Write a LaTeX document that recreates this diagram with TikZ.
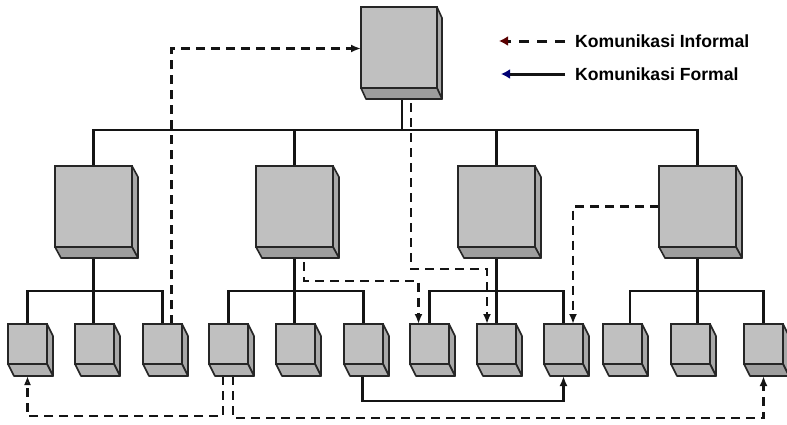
\documentclass[tikz,border=0pt]{standalone}
\usepackage{fontspec}
\setmainfont{Liberation Sans}
\usetikzlibrary{arrows.meta,calc}
\pgfdeclarelayer{bg}
\pgfsetlayers{bg,main}
\definecolor{facegray}{HTML}{C0C0C0}
\definecolor{sidegray}{HTML}{A8A8A8}
\definecolor{botgray}{HTML}{9E9E9E}
\definecolor{smallbot}{HTML}{B2B2B2}
\definecolor{edgegray}{HTML}{262626}
\tikzset{
  front/.style={draw=edgegray, fill=facegray, line width=1.6pt, inner sep=0pt, outer sep=0pt},
  edge/.style={draw=edgegray, line width=1.6pt, line join=round},
  formal/.style={draw=black!92, line width=2.2pt},
  informal/.style={draw=black!92, line width=2.2pt, dash pattern=on 9pt off 6pt},
  tip/.style={-{Latex[length=10pt,width=8pt]}},
  opentip/.style={-{Latex[open,length=9pt,width=7pt]}},
  legendtext/.style={font=\bfseries\fontsize{17.6}{20}\selectfont, anchor=west, inner sep=0pt}
}
% #1 name, #2 left x, #3 top y, #4 width, #5 height, #6/#7 depth offset, #8 bottom face colour
\newcommand{\cubebox}[8]{%
  \node[front, minimum width=#4pt, minimum height=#5pt, anchor=north west] (#1) at (#2,#3) {};
  \draw[edge, fill=sidegray] (#1.north east) -- ++(#6,#7) -- ($(#1.south east)+(#6,#7)$) -- (#1.south east) -- cycle;
  \draw[edge, fill=#8] (#1.south west) -- (#1.south east) -- ($(#1.south east)+(#6,#7)$) -- ($(#1.south west)+(#6,#7)$) -- cycle;
}
\begin{document}
\begin{tikzpicture}[x=1pt,y=-1pt]
\useasboundingbox (0,0) rectangle (787,424);

% top level
\cubebox{top}{361}{7}{76}{81}{5}{11}{botgray}

% second level
\cubebox{b1}{55}{166}{77}{81}{6}{11}{botgray}
\cubebox{b2}{256}{166}{77}{81}{6}{11}{botgray}
\cubebox{b3}{458}{166}{77}{81}{6}{11}{botgray}
\cubebox{b4}{659}{166}{77}{81}{6}{11}{botgray}

% third level
\cubebox{s1}{8}{324}{39}{40}{6}{12}{smallbot}
\cubebox{s2}{75}{324}{39}{40}{6}{12}{smallbot}
\cubebox{s3}{143}{324}{39}{40}{6}{12}{smallbot}
\cubebox{s4}{209}{324}{39}{40}{6}{12}{smallbot}
\cubebox{s5}{276}{324}{39}{40}{6}{12}{smallbot}
\cubebox{s6}{344}{324}{39}{40}{6}{12}{smallbot}
\cubebox{s7}{410}{324}{39}{40}{6}{12}{smallbot}
\cubebox{s8}{477}{324}{39}{40}{6}{12}{smallbot}
\cubebox{s9}{544}{324}{39}{40}{6}{12}{smallbot}
\cubebox{s10}{603}{324}{39}{40}{6}{12}{smallbot}
\cubebox{s11}{671}{324}{39}{40}{6}{12}{smallbot}
\cubebox{s12}{744}{324}{39}{40}{6}{12}{botgray}

% legend
\node[legendtext] (leg1) at (575,41) {Komunikasi Informal};
\node[legendtext] (leg2) at (575,74) {Komunikasi Formal};
\draw[informal, line width=3pt, dash pattern=on 10pt off 8pt, -{Latex[length=9pt,width=10pt,color=red!35!black]}]
  ([xshift=-10pt]leg1.west) -- ++(-66,0);
\draw[formal, line width=3pt, -{Latex[length=9pt,width=10pt,color=blue!45!black]}]
  ([xshift=-10pt]leg2.west) -- ++(-64,0);

\begin{pgfonlayer}{bg}
  % formal hierarchy
  \draw[formal] ([xshift=3pt]top.south) -- ++(0,42);
  \draw[formal] (b1.north) -- ++(0,-36) -| (b4.north);
  \draw[formal] (b2.north) -- ++(0,-36);
  \draw[formal] (b3.north) -- ++(0,-36);

  \draw[formal] (b1.south) -- (b1.south |- s2.north);
  \draw[formal] (s1.north) -- ++(0,-33) -| (s3.north);
  \draw[formal] (b2.south) -- (b2.south |- s5.north);
  \draw[formal] (s4.north) -- ++(0,-33) -| (s6.north);
  \draw[formal] (b3.south) -- (b3.south |- s8.north);
  \draw[formal] (s7.north) -- ++(0,-33) -| (s9.north);
  \draw[formal] (b4.south) -- (b4.south |- s11.north);
  \draw[formal] ([xshift=7.5pt]s10.north) -- ++(0,-33) -| (s12.north);

  % formal link across groups
  \draw[formal, tip] ([shift={(-1,12)}]s6.south) -- ++(0,25) -| ([shift={(0,12)}]s9.south);

  % informal links
  \draw[informal, tip] ([xshift=9pt]s3.north) |- ([yshift=-1pt]top.west);
  \draw[informal, tip] ([xshift=12pt]top.south) -- ++(0,181) -| ([xshift=-9.5pt]s8.north);
  \draw[informal, tip] ([xshift=9.5pt]b2.south) -- ++(0,34) -| ([xshift=-11pt]s7.north);
  \draw[informal, tip] (b4.west) -| ([xshift=9.5pt]s9.north);
  \draw[informal, opentip] ([shift={(-5.5,12)}]s4.south) -- ++(0,40) -| ([shift={(0,12)}]s1.south);
  \draw[informal, tip] ([shift={(4.5,12)}]s4.south) -- ++(0,42) -| ([shift={(0,12)}]s12.south);
\end{pgfonlayer}
\end{tikzpicture}
\end{document}
